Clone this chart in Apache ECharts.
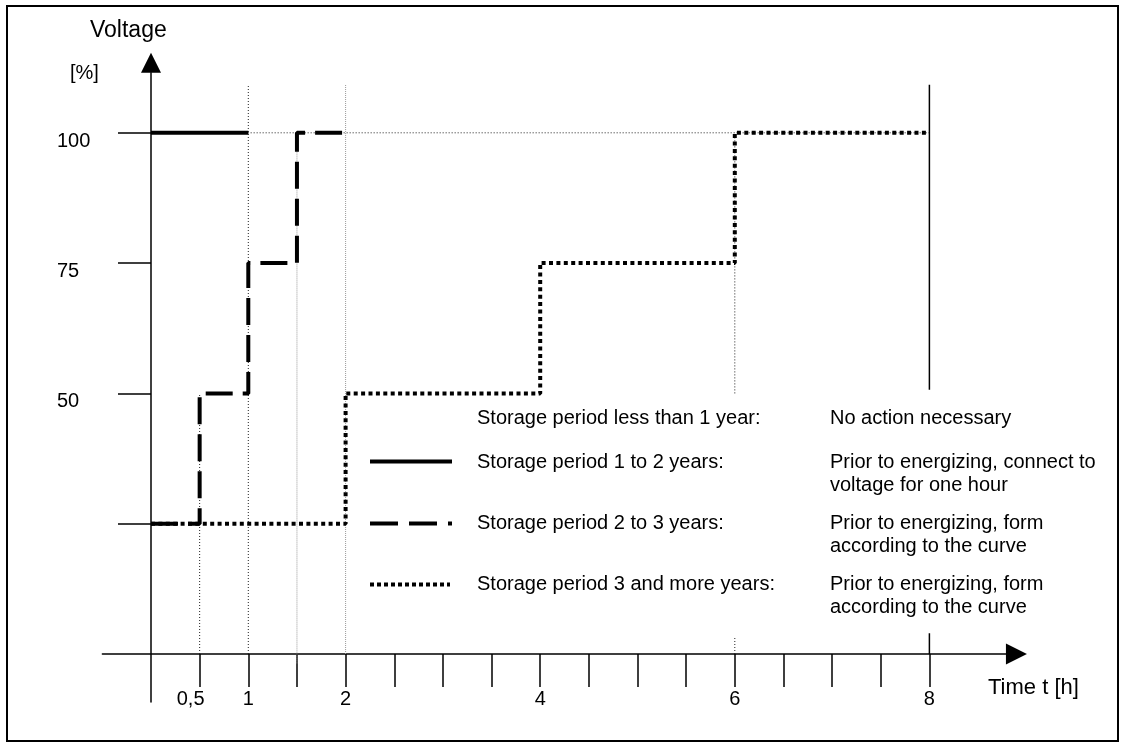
<!DOCTYPE html>
<html>
<head>
<meta charset="utf-8">
<script src="https://cdn.jsdelivr.net/npm/echarts@6/dist/echarts.min.js"></script>
<style>
html,body{margin:0;padding:0;background:#fff;}
#c{width:1126px;height:747px;}
</style>
</head>
<body>
<div id="c"></div>
<script>
// ---- data ----
const timeSolid = [0, 1];
const voltSolid = [100, 100];
const timeDashed = [0, 0.5, 1, 1.5, 2];
const voltDashed = [25, 50, 75, 100, 100];
const timeDotted = [0, 2, 4, 6, 8];
const voltDotted = [25, 50, 75, 100, 100];

const xTickValues = [0.5, 1, 1.5, 2, 2.5, 3, 3.5, 4, 4.5, 5, 5.5, 6, 6.5, 7, 7.5, 8];
const xLabelValues = [0.5, 1, 2, 4, 6, 8];
const xLabelTexts = ['0,5', '1', '2', '4', '6', '8'];
const yTickValues = [25, 50, 75, 100];
const yLabelValues = [50, 75, 100];

const legendNames = [
  'Storage period less than 1 year:',
  'Storage period 1 to 2 years:',
  'Storage period 2 to 3 years:',
  'Storage period 3 and more years:'
];
const legendNotes = [
  ['No action necessary'],
  ['Prior to energizing, connect to', 'voltage for one hour'],
  ['Prior to energizing, form', 'according to the curve'],
  ['Prior to energizing, form', 'according to the curve']
];

// guide lines (time, voltage) pairs
const guideDotted = [
  [[0.87, 100], [8, 100]],
  [[0.5, 0], [0.5, 50]],
  [[1, 0], [1, 109.2]],
  [[6, 50], [6, 100]],
  [[6, 0], [6, 3.4]]
];
const guideGray = [
  [[1.5, -1.8], [1.5, 100]],
  [[2, 0], [2, 109.2]]
];
const guideSolid = [
  [[8, 109.2], [8, 50.7]],
  [[8, 4], [8, 0]]
];

// ---- layout ----
const FONT = '"Liberation Sans", Arial, sans-serif';
const W = 1126, H = 747;
const x0 = 151, pxPerH = 97.3;
const y0 = 654, pxPerPct = 5.212;
const xMin = -0.5, xMax = 8.79;
const yMin = -9.2, yMax = 111.5;
const gridLeft = x0 + xMin * pxPerH;
const gridRight = W - (x0 + xMax * pxPerH);
const gridTop = y0 - yMax * pxPerPct;
const gridBottom = H - (y0 - yMin * pxPerPct);

const zip = (a, b) => a.map((v, i) => [v, b[i]]);

const series = [];
guideDotted.forEach(g => series.push({
  type: 'line', data: g, symbol: 'none', silent: true, z: 1,
  lineStyle: { color: '#222', width: 1, type: [1, 2] }
}));
guideGray.forEach(g => series.push({
  type: 'line', data: g, symbol: 'none', silent: true, z: 1,
  lineStyle: { color: '#999', width: 1, type: [1, 1] }
}));
guideSolid.forEach(g => series.push({
  type: 'line', data: g, symbol: 'none', silent: true, z: 1,
  lineStyle: { color: '#000', width: 1.5 }
}));
series.push({
  name: 'Storage period 1 to 2 years', type: 'line', data: zip(timeSolid, voltSolid),
  symbol: 'none', z: 3, lineStyle: { color: '#000', width: 4, cap: 'butt' }
});
series.push({
  name: 'Storage period 2 to 3 years', type: 'line', step: 'end', data: zip(timeDashed, voltDashed),
  symbol: 'none', z: 3, lineStyle: { color: '#000', width: 4, type: [27, 10], cap: 'butt' }
});
series.push({
  name: 'Storage period 3 and more years', type: 'line', step: 'end', data: zip(timeDotted, voltDotted),
  symbol: 'none', z: 4, lineStyle: { color: '#000', width: 4, type: [4, 3.4], cap: 'butt' }
});

function txt(text, x, y, size) {
  return {
    type: 'text', z: 10,
    style: {
      text: text, x: x, y: y, font: size + 'px ' + FONT, fill: '#000',
      align: 'left', verticalAlign: 'middle', textAlign: 'left', textVerticalAlign: 'middle'
    }
  };
}

const graphics = [
  { type: 'rect', z: 10, shape: { x: 7, y: 6, width: 1111, height: 735 },
    style: { fill: 'none', stroke: '#000', lineWidth: 2 } },
  txt('Voltage', 90, 31, 23),
  txt('[%]', 70, 73, 20),
  txt('Time t [h]', 988, 688, 22)
];
const rowY = [418, 462, 523, 584];
legendNames.forEach((n, i) => graphics.push(txt(n, 477, rowY[i], 20)));
legendNotes.forEach((lines, i) => lines.forEach((l, j) => graphics.push(txt(l, 830, rowY[i] + j * 23, 20))));
graphics.push({ type: 'line', z: 10, shape: { x1: 370, y1: 461.5, x2: 452, y2: 461.5 },
  style: { stroke: '#000', lineWidth: 4 } });
graphics.push({ type: 'line', z: 10, shape: { x1: 370, y1: 523.5, x2: 452, y2: 523.5 },
  style: { stroke: '#000', lineWidth: 4, lineDash: [28, 11] } });
graphics.push({ type: 'line', z: 10, shape: { x1: 370, y1: 584.5, x2: 450, y2: 584.5 },
  style: { stroke: '#000', lineWidth: 4, lineDash: [4, 3] } });

const chart = echarts.init(document.getElementById('c'), null, { renderer: 'canvas' });
chart.setOption({
  animation: false,
  backgroundColor: '#fff',
  grid: {
    left: gridLeft, right: gridRight, top: gridTop, bottom: gridBottom,
    containLabel: false
  },
  xAxis: {
    type: 'value', min: xMin, max: xMax,
    splitLine: { show: false },
    axisLine: { onZero: true, lineStyle: { color: '#000', width: 1.5 },
      symbol: ['none', 'triangle'], symbolSize: [21, 21], symbolOffset: [0, 10.2] },
    axisTick: { show: true, customValues: xTickValues, length: 33, lineStyle: { color: '#000', width: 1.5 } },
    axisLabel: {
      show: true, customValues: xLabelValues, margin: -12, fontSize: 20, fontFamily: FONT, color: '#000',
      lineHeight: 20,
      formatter: v => {
        const i = xLabelValues.indexOf(v);
        const t = i >= 0 ? xLabelTexts[i] : '';
        return v === 0.5 ? '{a|' + t + '}' : t;
      },
      rich: { a: { fontSize: 20, fontFamily: FONT, color: '#000', padding: [0, 18, 0, 0] } }
    }
  },
  yAxis: {
    type: 'value', min: yMin, max: yMax,
    splitLine: { show: false },
    axisLine: { onZero: true, lineStyle: { color: '#000', width: 1.5 },
      symbol: ['none', 'triangle'], symbolSize: [20, 20], symbolOffset: [0, 10] },
    axisTick: { show: true, customValues: yTickValues, length: 33, lineStyle: { color: '#000', width: 1.5 } },
    axisLabel: {
      show: true, customValues: yLabelValues, margin: 45.35, align: 'left', verticalAlign: 'top',
      lineHeight: 17, fontSize: 20, fontFamily: FONT, color: '#000'
    }
  },
  series: series,
  graphic: graphics
});
</script>
</body>
</html>
